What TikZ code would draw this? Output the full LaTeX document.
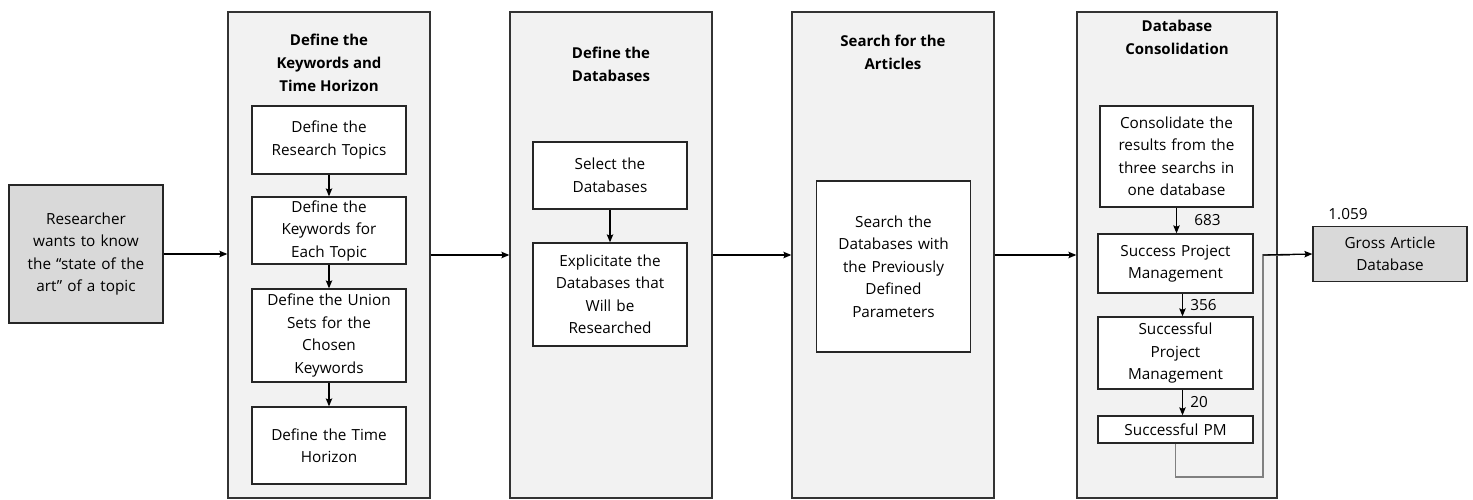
\documentclass[tikz,border=0pt]{standalone}
\usepackage{fontspec}
\setmainfont{Open Sans}
\usetikzlibrary{arrows.meta}
\definecolor{panelgray}{HTML}{F2F2F2}
\definecolor{boxgray}{HTML}{D9D9D9}
\begin{document}
\begin{tikzpicture}[x=1pt,y=-1pt,>={Stealth[length=8pt,width=6.5pt,inset=1.5pt]},line width=1.3pt,font=\fontsize{15.3}{22.5}\selectfont,
	panel/.style={draw=black!80,fill=panelgray,minimum width=202pt,minimum height=486pt},
	stepbox/.style={draw=black!85,fill=white,text width=140pt,inner xsep=7pt,inner ysep=0pt,align=center},
	endbox/.style={stepbox,fill=boxgray},
	title/.style={font=\fontsize{15}{23}\selectfont\bfseries,align=center}]
	\useasboundingbox (0,0) rectangle (1473,500);
	% start and end
	\node[endbox,minimum height=138pt] (start) at (86,254) {Researcher\\ wants to know\\ the “state of the\\ art” of a topic};
	\node[endbox,minimum height=55pt] (gross) at (1390,254) {Gross Article\\ Database};
	\node (gcount) at (1348,214) {1.059};
	% panels
	\node[panel] (p1) at (329,255) {};
	\node[panel] (p2) at (611,255) {};
	\node[panel] (p3) at (893,255) {};
	\node[panel,minimum width=200pt] (p4) at (1177,255) {};
	\node[title] (t1) at (329,63) {Define the\\ Keywords and\\ Time Horizon};
	\node[title] (t2) at (611,64) {Define the\\ Databases};
	\node[title] (t3) at (893,52) {Search for the\\ Articles};
	\node[title] (t4) at (1177,37) {Database\\ Consolidation};
	% keywords
	\node[stepbox,minimum height=68pt] (k1) at (329,140) {Define the\\ Research Topics};
	\node[stepbox,minimum height=67pt] (k2) at (329,230.5) {Define the\\ Keywords for\\ Each Topic};
	\node[stepbox,minimum height=93pt] (k3) at (329,335.5) {Define the Union\\ Sets for the\\ Chosen\\ Keywords};
	\node[stepbox,minimum height=77pt] (k4) at (329,445.5) {Define the Time\\ Horizon};
	% databases
	\node[stepbox,minimum height=67pt] (d1) at (610,175.5) {Select the\\ Databases};
	\node[stepbox,minimum height=103pt] (d2) at (610,294.5) {Explicitate the\\ Databases that\\ Will be\\ Researched};
	% search
	\node[stepbox,minimum height=171pt] (s1) at (893.5,266.5) {Search the\\ Databases with\\ the Previously\\ Defined\\ Parameters};
	% consolidation
	\node[stepbox,text width=139pt,minimum height=101pt] (c1) at (1176.5,156.5) {Consolidate the\\ results from the\\ three searchs in\\ one database};
	\node[stepbox,text width=141pt,minimum height=59pt] (c2) at (1175.5,263.5) {Success Project\\ Management};
	\node[stepbox,text width=141pt,minimum height=72pt] (c3) at (1175.5,353) {Successful\\ Project\\ Management};
	\node[stepbox,text width=141pt,minimum height=27pt] (c4) at (1175.5,429.5) {Successful PM};
	\coordinate (turn) at (1263,477);
	% arrows
	\draw[->] (start.east) -- (start.east -| p1.west);
	\draw[->] (p1.east) -- (p2.west);
	\draw[->] (p2.east) -- (p3.west);
	\draw[->] (p3.east) -- (p4.west);
	\draw[->] (k1) -- (k2);
	\draw[->] (k2) -- (k3);
	\draw[->] (k3) -- (k4);
	\draw[->] (d1) -- (d1 |- d2.north);
	\draw[->] (c1.south) -- (c1.south |- c2.north) node[midway,right=14pt] {683};
	\draw[->] ([xshift=7pt]c2.south) -- ([xshift=7pt]c2.south |- c3.north) node[midway,right=4pt] {356};
	\draw[->] ([xshift=7pt]c3.south) -- ([xshift=7pt]c3.south |- c4.north) node[midway,right=4pt] {20};
	\draw[draw=gray,line width=1.6pt] (c4.south) |- (turn) |- (1290,255);
	\draw[->] (1263,255) -- (gross.west);
\end{tikzpicture}
\end{document}
